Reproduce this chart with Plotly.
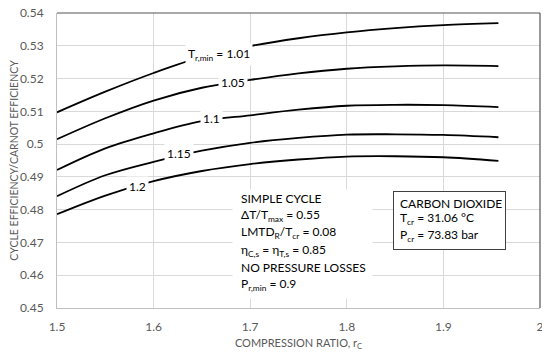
import plotly.graph_objects as go

rc = [1.5, 1.55, 1.6, 1.65, 1.7, 1.75, 1.8, 1.85, 1.9, 1.957]
eff_101 = [0.5097, 0.5160, 0.5217, 0.5266, 0.5299, 0.5323, 0.5341, 0.5354, 0.5363, 0.5369]
eff_105 = [0.5015, 0.5079, 0.5133, 0.5172, 0.5196, 0.5216, 0.5230, 0.5237, 0.5240, 0.5238]
eff_110 = [0.4921, 0.4987, 0.5033, 0.5070, 0.5088, 0.5105, 0.5117, 0.5120, 0.5119, 0.5113]
eff_115 = [0.4841, 0.4905, 0.4946, 0.4980, 0.5004, 0.5019, 0.5029, 0.5030, 0.5028, 0.5021]
eff_120 = [0.4786, 0.4843, 0.4887, 0.4918, 0.4939, 0.4953, 0.4962, 0.4963, 0.4960, 0.4949]

series = [eff_101, eff_105, eff_110, eff_115, eff_120]
labels = ["T<sub>r,min</sub> = 1.01", "1.05", "1.1", "1.15", "1.2"]
label_x = [1.668, 1.682, 1.660, 1.626, 1.583]
label_y = [0.5272, 0.5189, 0.5077, 0.4971, 0.4871]

cycle_lines = ["SIMPLE CYCLE", "ΔT/T<sub>max</sub> = 0.55", "LMTD<sub>R</sub>/T<sub>cr</sub> = 0.08",
               "η<sub>C,s</sub> = η<sub>T,s</sub> = 0.85", "NO PRESSURE LOSSES", "P<sub>r,min</sub> = 0.9"]
cycle_line_y = [0.48343, 0.47832, 0.47291, 0.46762, 0.46251, 0.45722]
fluid_lines = ["CARBON DIOXIDE", "T<sub>cr</sub> = 31.06 °C", "P<sub>cr</sub> = 73.83 bar"]
fluid_line_y = [0.48199, 0.47731, 0.47220]

x_ticks = [1.5, 1.6, 1.7, 1.8, 1.9, 2.0]
x_ticktext = ["1.5", "1.6", "1.7", "1.8", "1.9", "2"]
y_ticks = [0.45, 0.46, 0.47, 0.48, 0.49, 0.50, 0.51, 0.52, 0.53, 0.54]
y_ticktext = ["0.45", "0.46", "0.47", "0.48", "0.49", "0.5", "0.51", "0.52", "0.53", "0.54"]

FONT = "Lato"
GRAY = "#595959"

fig = go.Figure()
for s in series:
    fig.add_trace(go.Scatter(x=rc, y=s, mode="lines", line=dict(color="black", width=1.8, shape="spline"),
                             showlegend=False, hoverinfo="skip"))

annotations = []
for t, lx, ly in zip(labels, label_x, label_y):
    annotations.append(dict(x=lx, y=ly, xref="x", yref="y", text=t, showarrow=False,
                            font=dict(family=FONT, size=12, color="black"),
                            bgcolor="white", borderpad=2))

# white background panel behind the cycle description
annotations.append(dict(x=1.75409, y=0.46945, xref="x", yref="y", text=" ", showarrow=False,
                        bgcolor="white", width=139, height=108, borderpad=0))
for t, ly in zip(cycle_lines, cycle_line_y):
    annotations.append(dict(x=1.68829, y=ly, xref="x", yref="y", text=t, showarrow=False,
                            xanchor="left", yanchor="middle",
                            font=dict(family=FONT, size=12, color="black")))

# bordered box for working-fluid data
annotations.append(dict(x=1.90642, y=0.47664, xref="x", yref="y", text=" ", showarrow=False,
                        bgcolor="white", bordercolor="#404040", borderwidth=1,
                        width=111, height=57, borderpad=0))
for t, ly in zip(fluid_lines, fluid_line_y):
    annotations.append(dict(x=1.85306, y=ly, xref="x", yref="y", text=t, showarrow=False,
                            xanchor="left", yanchor="middle",
                            font=dict(family=FONT, size=12, color="black")))

fig.update_layout(
    width=542, height=350,
    margin=dict(l=49, r=10, t=5, b=50, autoexpand=False),
    paper_bgcolor="white", plot_bgcolor="white",
    font=dict(family=FONT, size=12, color=GRAY),
    annotations=annotations,
    shapes=[
        dict(type="line", xref="x domain", yref="y domain", x0=0, x1=1, y0=1, y1=1,
             line=dict(color="#555555", width=1.2)),
        dict(type="line", xref="x domain", yref="y domain", x0=1, x1=1, y0=0, y1=1,
             line=dict(color="#555555", width=1.2)),
    ],
)
fig.update_xaxes(range=[1.5, 2.00005], tickvals=x_ticks, ticktext=x_ticktext,
                 showgrid=True, gridcolor="#d9d9d9", gridwidth=1,
                 showline=True, linecolor="#bfbfbf", linewidth=1, zeroline=False,
                 ticks="", ticklabelstandoff=8, automargin=False, ticklabeloverflow="allow",
                 tickfont=dict(family=FONT, size=12, color=GRAY),
                 title=dict(text="COMPRESSION RATIO, r<sub>C</sub>", standoff=5,
                            font=dict(family=FONT, size=11, color=GRAY)))
fig.update_yaxes(range=[0.45, 0.540005], tickvals=y_ticks, ticktext=y_ticktext,
                 showgrid=True, gridcolor="#d9d9d9", gridwidth=1,
                 showline=True, linecolor="#bfbfbf", linewidth=1, zeroline=False,
                 ticks="", ticklabelstandoff=10, automargin=False, ticklabeloverflow="allow",
                 tickfont=dict(family=FONT, size=12, color=GRAY),
                 title=dict(text="CYCLE EFFICIENCY/CARNOT EFFICIENCY", standoff=5,
                            font=dict(family=FONT, size=10.5, color=GRAY)))

fig.write_html("out.html")
